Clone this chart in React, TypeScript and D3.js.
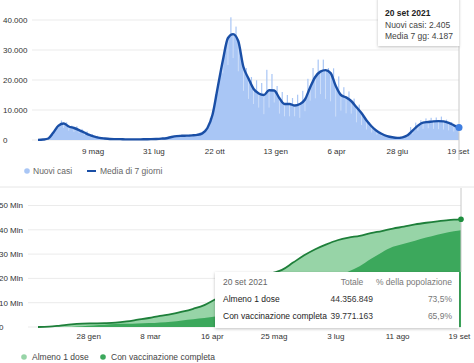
import React from 'react';
import * as d3 from 'd3';

// Nuovi casi: media 7 giorni, un valore a settimana (lunedì) dal 24 feb 2020 al 20 set 2021
const casesAvg = [
  30, 150, 500, 2500, 4800, 5500, 4500, 4000, 3300, 2500, 1700, 1100, 700, 500, 350, 300, 280,
  220, 200, 200, 220, 250, 280, 350, 450, 600, 1000, 1300, 1400, 1450, 1550, 1700, 2200, 4000,
  8500, 17500, 26500, 34000, 35300, 33000, 24400, 20500, 17000, 15500, 15000, 16600, 16500,
  14000, 12000, 12000, 11500, 12000, 13500, 17500, 21000, 22800, 23300, 22300, 18000, 15000,
  14200, 13000, 11000, 9000, 6500, 4500, 3000, 2000, 1300, 900, 700, 900, 1600, 3200, 4800,
  5800, 6000, 6200, 6300, 6200, 5700, 4900, 4187,
];
// giorno più alto di ogni settimana (venerdì)
const casesHigh = [
  80, 400, 1500, 3600, 6500, 5900, 4800, 4600, 3700, 2900, 2000, 1400, 900, 650, 450, 380, 340,
  290, 270, 260, 290, 380, 390, 550, 640, 950, 1450, 1700, 1650, 1900, 1850, 2500, 3700, 7300,
  15200, 24000, 32000, 40900, 37800, 29000, 24000, 21000, 19900, 19000, 23400, 22000, 18000,
  16000, 15000, 14000, 15100, 16400, 20400, 24000, 26800, 26800, 24000, 23900, 21200, 17600,
  16200, 13800, 11800, 8000, 6000, 4000, 2800, 1900, 1400, 950, 1100, 1600, 4300, 5800, 6600,
  7200, 7400, 7500, 7800, 6800, 6000, 5100,
];
// giorno più basso di ogni settimana (lunedì)
const casesLow = [
  0, 80, 350, 1800, 4000, 4000, 3100, 2700, 2300, 1700, 1200, 740, 450, 300, 180, 200, 170, 120,
  140, 110, 120, 130, 160, 160, 260, 320, 880, 990, 1100, 1000, 1300, 1400, 2200, 4100, 9300,
  17000, 22200, 25000, 27300, 22900, 16400, 13700, 12000, 10800, 8600, 10800, 12500, 8800, 7900,
  7900, 7900, 7400, 9600, 13100, 13900, 15300, 13700, 12900, 7800, 9800, 8900, 8800, 5900, 5000,
  3500, 2500, 1800, 1300, 900, 500, 400, 800, 900, 2100, 3100, 3700, 3900, 3700, 3600, 3500,
  3200, 2800, 2405,
];
const casesTicks = ['2020-05-09', '2020-07-31', '2020-10-22', '2021-01-13', '2021-04-06', '2021-06-28', '2021-09-19'];
const casesTickLabels = ['9 mag', '31 lug', '22 ott', '13 gen', '6 apr', '28 giu', '19 set'];
const casesYTicks = [0, 10000, 20000, 30000, 40000];
const casesYLabels = ['0', '10.000', '20.000', '30.000', '40.000'];

// Vaccini: milioni di persone, settimanale dal 27 dic 2020, ultimo punto 20 set 2021
const almenoUnaDose = [
  0.01, 0.15, 0.6, 1.1, 1.4, 1.5, 1.6, 1.8, 2.3, 3.0, 3.7, 4.6, 5.3, 6.3, 7.5, 9.0, 11.4, 13.5,
  15.5, 17.5, 19.8, 22.0, 23.5, 26.5, 29.5, 32.0, 34.0, 35.7, 36.8, 37.5, 38.6, 39.5, 40.5, 41.3,
  42.2, 42.9, 43.5, 44.0, 44.3, 44.357,
];
const ciclocompleto = [
  0, 0, 0, 0.05, 0.3, 0.6, 0.9, 1.2, 1.3, 1.4, 1.6, 1.9, 2.2, 2.7, 3.2, 3.7, 4.3, 5.0, 6.2, 7.5,
  9.0, 10.5, 12.0, 13.5, 15.5, 17.5, 19.5, 21.0, 22.8, 25.0, 28.0, 30.7, 33.0, 34.3, 35.5, 36.8,
  38.0, 39.0, 39.7, 39.771,
];
const vaxTicks = ['2021-01-28', '2021-03-08', '2021-04-16', '2021-05-25', '2021-07-03', '2021-08-11', '2021-09-19'];
const vaxTickLabels = ['28 gen', '8 mar', '16 apr', '25 mag', '3 lug', '11 ago', '19 set'];
const vaxYTicks = [0, 10, 20, 30, 40, 50];
const vaxYLabels = ['0', '10 Mln', '20 Mln', '30 Mln', '40 Mln', '50 Mln'];

const FONT = "Arial, 'Liberation Sans', sans-serif";
const parse = d3.timeParse('%Y-%m-%d');

export default function App() {
  // --- grafico casi ---
  const caseStart = parse('2020-02-24')!;
  const caseEnd = parse('2021-09-20')!;
  const x1 = d3.scaleTime().domain([caseStart, caseEnd]).range([38, 459]);
  const y1 = d3.scaleLinear().domain([0, 40000]).range([140, 20]);
  const weekDay = (w: number, d: number) => d3.timeDay.offset(caseStart, w * 7 + d);

  const avgPts = casesAvg.map((v, i) => ({ date: weekDay(i, 0), v }));
  const avgArea = d3
    .area<any>()
    .x((d) => x1(d.date))
    .y0(y1(0))
    .y1((d) => y1(d.v))
    .curve(d3.curveMonotoneX);
  const avgLine = d3
    .line<any>()
    .x((d) => x1(d.date))
    .y((d) => y1(d.v))
    .curve(d3.curveMonotoneX);

  // --- grafico vaccini ---
  const vaxStart = parse('2020-12-27')!;
  const vaxEnd = parse('2021-09-20')!;
  const x2 = d3.scaleTime().domain([vaxStart, vaxEnd]).range([38, 461]);
  const y2 = d3.scaleLinear().domain([0, 50]).range([327, 205.5]);
  const vaxDate = (i: number) =>
    i === almenoUnaDose.length - 1 ? vaxEnd : d3.timeDay.offset(vaxStart, i * 7);
  const dosePts = almenoUnaDose.map((v, i) => ({ date: vaxDate(i), v }));
  const fullPts = ciclocompleto.map((v, i) => ({ date: vaxDate(i), v }));
  const vArea = d3
    .area<any>()
    .x((d) => x2(d.date))
    .y0(y2(0))
    .y1((d) => y2(d.v))
    .curve(d3.curveMonotoneX);
  const vLine = d3
    .line<any>()
    .x((d) => x2(d.date))
    .y((d) => y2(d.v))
    .curve(d3.curveMonotoneX);

  const blueFill = '#a9c6f5';
  const lastAvg = avgPts[avgPts.length - 1];
  const lastDose = dosePts[dosePts.length - 1];

  return (
    <svg
      width={474}
      height={363}
      style={{ position: 'absolute', left: 0, top: 0, background: '#fff' }}
      fontFamily={FONT}
    >
      <defs>
        <filter id="sh" x="-10%" y="-20%" width="120%" height="150%">
          <feDropShadow dx="0" dy="1" stdDeviation="1.6" floodColor="#000" floodOpacity="0.25" />
        </filter>
      </defs>

      {/* griglia casi */}
      {casesYTicks.map((t, i) => (
        <g key={'cy' + i}>
          <line x1={32} x2={459} y1={y1(t)} y2={y1(t)} stroke="#ebebeb" strokeWidth={1} />
          <text x={3} y={y1(t)} dy="0.35em" fontSize={8} fill="#333">
            {casesYLabels[i]}
          </text>
        </g>
      ))}

      {/* barre giornaliere: picchi */}
      {casesHigh.map((v, i) => (
        <rect
          key={'h' + i}
          x={x1(weekDay(i, 4)) - 0.6}
          width={1.2}
          y={y1(v)}
          height={y1(0) - y1(v)}
          fill={blueFill}
        />
      ))}
      <path d={avgArea(avgPts) || ''} fill={blueFill} />
      {/* barre giornaliere: giorni bassi */}
      {casesLow.map((v, i) =>
        v < casesAvg[i] ? (
          <rect
            key={'l' + i}
            x={x1(weekDay(i, 0)) - 0.35}
            width={0.7}
            y={y1(casesAvg[i])}
            height={y1(v) - y1(casesAvg[i])}
            fill="#fff"
            opacity={0.6}
          />
        ) : null
      )}
      <path d={avgLine(avgPts) || ''} fill="none" stroke="#1a4fa6" strokeWidth={2.4} strokeLinejoin="round" />

      {casesTicks.map((t, i) => (
        <text key={'cx' + i} x={x1(parse(t)!)} y={154} textAnchor="middle" fontSize={8} fill="#333">
          {casesTickLabels[i]}
        </text>
      ))}

      {/* cursore e tooltip casi */}
      <line x1={459} x2={459} y1={46} y2={160} stroke="#c8c8c8" strokeWidth={1} />
      <circle cx={x1(lastAvg.date)} cy={y1(lastAvg.v)} r={3.5} fill="#3f7ee0" />
      <rect x={378} y={-3} width={81} height={49} fill="#fff" filter="url(#sh)" />
      <text x={385} y={16} fontSize={8.5} fontWeight="bold" fill="#222">20 set 2021</text>
      <text x={385} y={28} fontSize={8.5} fill="#444">Nuovi casi: 2.405</text>
      <text x={385} y={39} fontSize={8.5} fill="#444">Media 7 gg: 4.187</text>

      {/* legenda casi */}
      <circle cx={27} cy={171} r={2.8} fill={blueFill} />
      <text x={33} y={171} dy="0.35em" fontSize={8.5} fill="#666">Nuovi casi</text>
      <line x1={87} x2={96} y1={171} y2={171} stroke="#1a4fa6" strokeWidth={2} />
      <text x={100} y={171} dy="0.35em" fontSize={8.5} fill="#666">Media di 7 giorni</text>

      {/* separatore */}
      <line x1={0} x2={474} y1={187} y2={187} stroke="#e6e6e6" strokeWidth={1} />

      {/* griglia vaccini */}
      {vaxYTicks.map((t, i) => (
        <g key={'vy' + i}>
          <line x1={28} x2={461} y1={y2(t)} y2={y2(t)} stroke="#ebebeb" strokeWidth={1} />
          <text x={-1} y={y2(t)} dy="0.35em" fontSize={8} fill="#333">
            {vaxYLabels[i]}
          </text>
        </g>
      ))}

      <path d={vArea(dosePts) || ''} fill="#97d4a7" />
      <path d={vArea(fullPts) || ''} fill="#3ca85c" />
      <path d={vLine(dosePts) || ''} fill="none" stroke="#1e7f3a" strokeWidth={1.8} />

      <line x1={461} x2={461} y1={188} y2={272} stroke="#c8c8c8" strokeWidth={1} />
      <circle cx={x2(lastDose.date)} cy={y2(lastDose.v)} r={2.8} fill="#1e8e3e" />

      {vaxTicks.map((t, i) => (
        <text key={'vx' + i} x={x2(parse(t)!)} y={339} textAnchor="middle" fontSize={8} fill="#333">
          {vaxTickLabels[i]}
        </text>
      ))}

      {/* tooltip vaccini */}
      <rect x={215} y={272} width={244} height={56} fill="#fff" filter="url(#sh)" />
      <g fontSize={8.5}>
        <text x={223} y={285} fill="#666">20 set 2021</text>
        <text x={352} y={285} textAnchor="middle" fill="#777">Totale</text>
        <text x={452} y={285} textAnchor="end" fill="#777">% della popolazione</text>
        <text x={223} y={302} fill="#222">Almeno 1 dose</text>
        <text x={373} y={302} textAnchor="end" fill="#333">44.356.849</text>
        <text x={452} y={302} textAnchor="end" fill="#777">73,5%</text>
        <text x={223} y={319} fill="#222">Con vaccinazione completa</text>
        <text x={373} y={319} textAnchor="end" fill="#333">39.771.163</text>
        <text x={452} y={319} textAnchor="end" fill="#777">65,9%</text>
      </g>

      {/* legenda vaccini */}
      <circle cx={24} cy={357} r={2.8} fill="#97d4a7" />
      <text x={32} y={357} dy="0.35em" fontSize={8.5} fill="#444">Almeno 1 dose</text>
      <circle cx={103} cy={357} r={2.8} fill="#3ca85c" />
      <text x={111} y={357} dy="0.35em" fontSize={8.5} fill="#444">Con vaccinazione completa</text>
    </svg>
  );
}
